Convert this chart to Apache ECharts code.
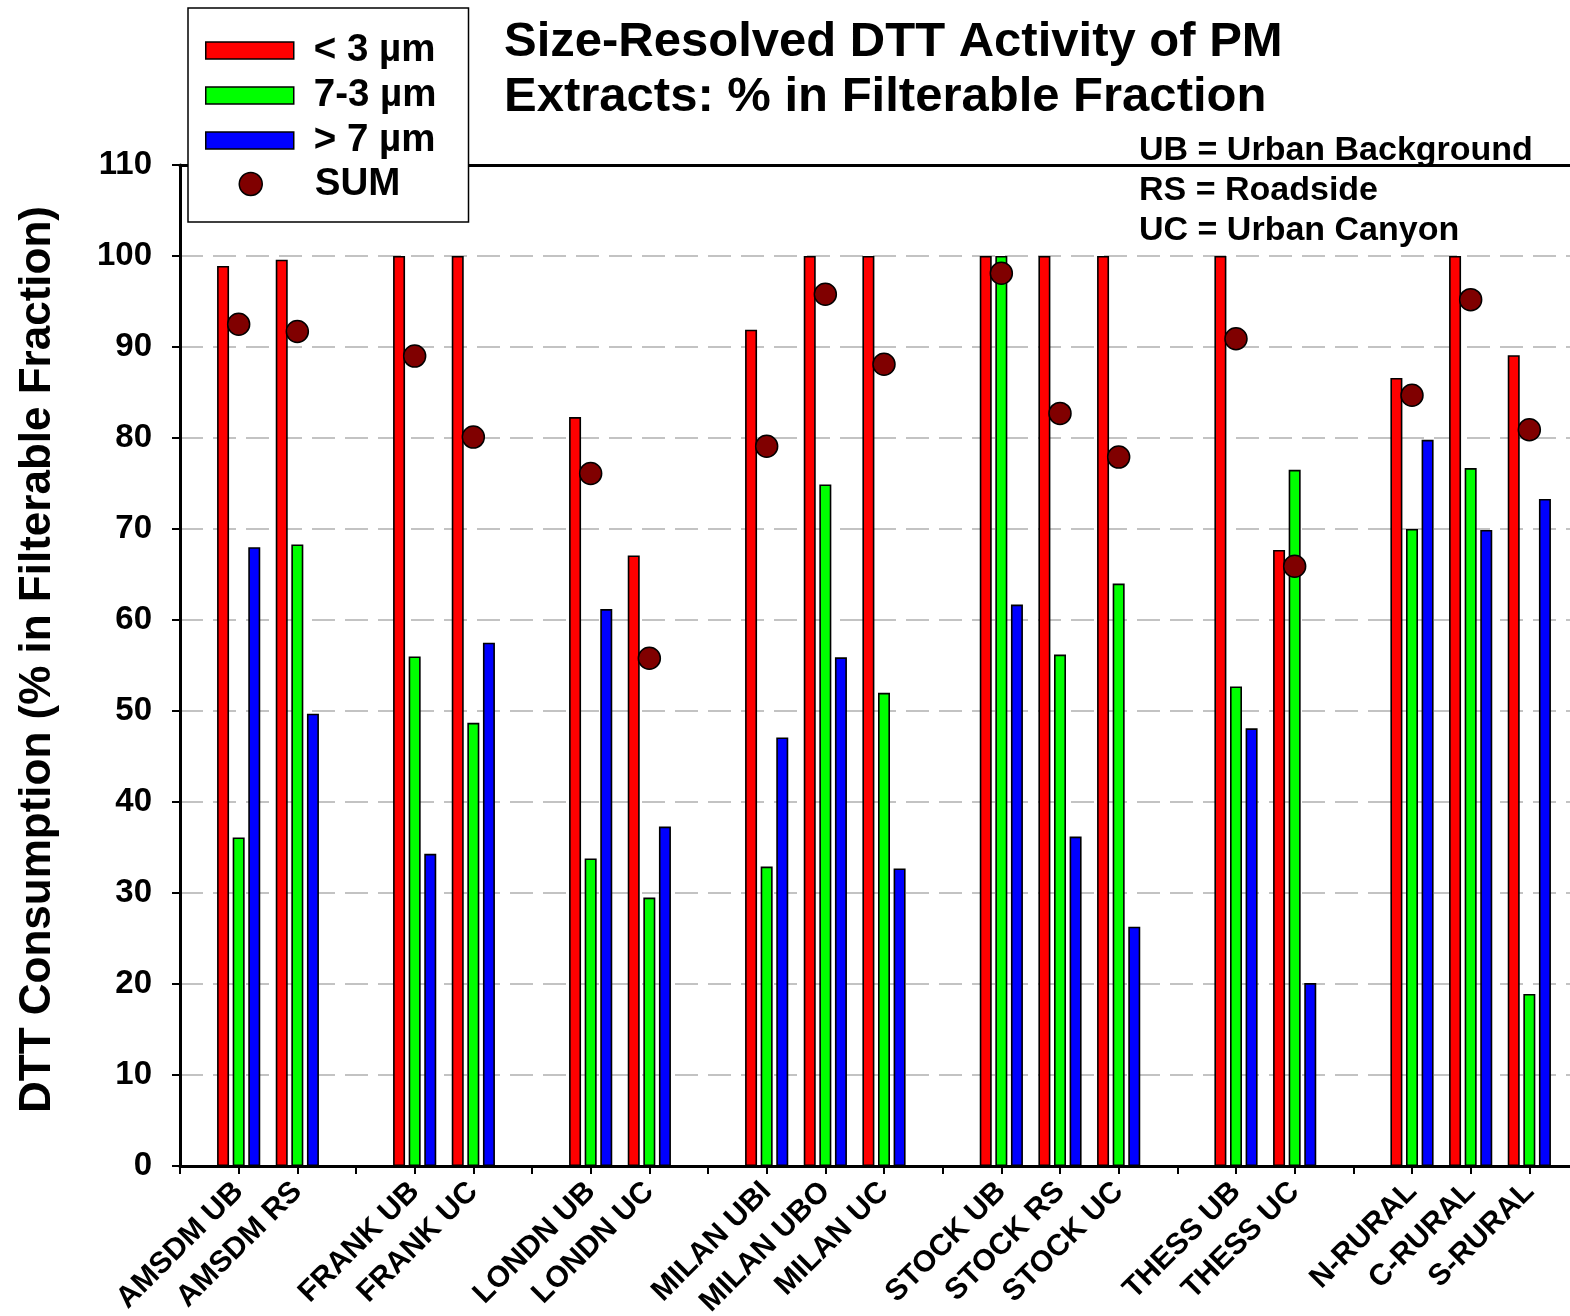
<!DOCTYPE html>
<html><head><meta charset="utf-8">
<script src="https://cdn.jsdelivr.net/npm/echarts@6/dist/echarts.min.js"></script>
<style>html,body{margin:0;padding:0;background:#fff}#c{width:1570px;height:1316px}</style>
</head><body><div id="c"></div>
<script>
// Categories (blank entries are spacer slots between site groups)
const categories = ['', 'AMSDM UB', 'AMSDM RS', '', 'FRANK UB', 'FRANK UC', '', 'LONDN UB', 'LONDN UC', '',
  'MILAN UBI', 'MILAN UBO', 'MILAN UC', '', 'STOCK UB', 'STOCK RS', 'STOCK UC', '',
  'THESS UB', 'THESS UC', '', 'N-RURAL', 'C-RURAL', 'S-RURAL', ''];
// < 3 µm
const fine = [null, 98.9, 99.6, null, 100, 100, null, 82.3, 67.1, null,
  91.9, 100, 100, null, 100, 100, 100, null, 100, 67.7, null, 86.6, 100, 89.1, null];
// 7-3 µm
const middle = [null, 36.1, 68.3, null, 56.0, 48.7, null, 33.8, 29.5, null,
  32.9, 74.9, 52.0, null, 100, 56.2, 64.0, null, 52.7, 76.5, null, 70.0, 76.7, 18.9, null];
// > 7 µm
const coarse = [null, 68.0, 49.7, null, 34.3, 57.5, null, 61.2, 37.3, null,
  47.1, 55.9, 32.7, null, 61.7, 36.2, 26.3, null, 48.1, 20.1, null, 79.8, 69.9, 73.3, null];
// SUM
const total = [null, 92.5, 91.7, null, 89.0, 80.1, null, 76.1, 55.8, null,
  79.1, 95.8, 88.1, null, 98.1, 82.7, 77.9, null, 90.9, 65.9, null, 84.7, 95.2, 80.9, null];

const seriesNames = ['< 3 µm', '7-3 µm', '> 7 µm', 'SUM'];
const seriesColors = ['#ff0000', '#00ff00', '#0000ff', '#800000'];
const titleText = 'Size-Resolved DTT Activity of PM\nExtracts: % in Filterable Fraction';
const noteText = 'UB = Urban Background\nRS = Roadside\nUC = Urban Canyon';
const yName = 'DTT Consumption (% in Filterable Fraction)';

const FONT = '"Liberation Sans", Arial, Helvetica, sans-serif';
const chart = echarts.init(document.getElementById('c'), null, {renderer: 'canvas'});

function barSeries(i, data) {
  return {
    name: seriesNames[i], type: 'bar', data: data, barWidth: 12, barGap: '30%',
    itemStyle: {color: seriesColors[i], borderColor: '#000', borderWidth: 1.6},
    xAxisIndex: 0, yAxisIndex: 0
  };
}

const option = {
  animation: false,
  backgroundColor: '#fff',
  textStyle: {fontFamily: FONT},
  title: [
    {text: titleText, left: 504, top: 15, padding: 0,
     textStyle: {fontFamily: FONT, fontSize: 49, fontWeight: 'bold', color: '#000', lineHeight: 55}},
    {text: noteText, left: 1139, top: 131, padding: 0,
     textStyle: {fontFamily: FONT, fontSize: 34, fontWeight: 'bold', color: '#000', lineHeight: 40}}
  ],
  legend: [
    {
      data: [0, 1, 2].map(i => ({name: seriesNames[i], icon: 'rect',
        itemStyle: {color: seriesColors[i], borderColor: '#000', borderWidth: 1.5}})),
      orient: 'vertical', left: 188, top: 8, padding: [20, 32, 59, 17], itemGap: 0,
      itemWidth: 88, itemHeight: 17, selectedMode: false,
      backgroundColor: '#fff', borderColor: '#000', borderWidth: 1.5, z: 4,
      textStyle: {fontFamily: FONT, fontSize: 38.5, fontWeight: 'bold', color: '#000', lineHeight: 45, padding: [0, 0, 0, 15]}
    },
    {
      data: [{name: seriesNames[3], icon: 'circle',
        itemStyle: {color: seriesColors[3], borderColor: '#000', borderWidth: 1.5}}],
      orient: 'vertical', left: 238.5, top: 161.5, padding: 0, itemGap: 0,
      itemWidth: 88, itemHeight: 23, selectedMode: false, z: 6,
      textStyle: {fontFamily: FONT, fontSize: 38.5, fontWeight: 'bold', color: '#000', lineHeight: 45, padding: [0, 0, 0, 15]}
    }
  ],
  grid: {left: 180, width: 1408, top: 165, bottom: 150, containLabel: false, outerBoundsMode: 'none'},
  xAxis: [
    {
      type: 'category', data: categories, boundaryGap: false, position: 'bottom',
      axisLine: {show: true, lineStyle: {color: '#000', width: 3}},
      axisTick: {show: true, interval: 0, length: 8, lineStyle: {color: '#000', width: 2}},
      axisLabel: {interval: 0, rotate: 45, margin: 21, padding: [47, 0, 0, 0], color: '#000', fontFamily: FONT, fontSize: 30, fontWeight: 'bold'},
      splitLine: {show: false}
    },
    {
      type: 'category', data: categories, boundaryGap: false, position: 'top',
      axisLine: {show: true, lineStyle: {color: '#000', width: 3}},
      axisTick: {show: false}, axisLabel: {show: false}, splitLine: {show: false}
    }
  ],
  yAxis: {
    type: 'value', min: 0, max: 110, interval: 10,
    name: yName, nameLocation: 'middle', nameGap: 120,
    nameTextStyle: {fontFamily: FONT, fontSize: 44, fontWeight: 'bold', color: '#000', padding: [0, 0, 0, 12]},
    axisLine: {show: true, lineStyle: {color: '#000', width: 3}},
    axisTick: {show: true, length: 8, lineStyle: {color: '#000', width: 2}},
    axisLabel: {margin: 28, color: '#000', fontFamily: FONT, fontSize: 33, fontWeight: 'bold'},
    splitLine: {show: true, lineStyle: {color: '#b0b0b0', width: 1.5, type: [23, 10]}}
  },
  series: [
    barSeries(0, fine),
    barSeries(1, middle),
    barSeries(2, coarse),
    {
      name: seriesNames[3], type: 'scatter', data: total, symbol: 'circle', symbolSize: 22, z: 5,
      itemStyle: {color: seriesColors[3], borderColor: '#000', borderWidth: 1.5, opacity: 1},
      xAxisIndex: 0, yAxisIndex: 0
    }
  ]
};
chart.setOption(option);
</script>
</body></html>
